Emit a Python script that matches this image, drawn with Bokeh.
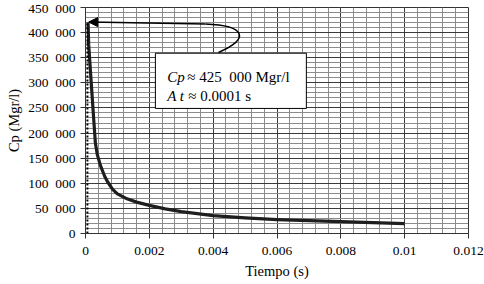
import numpy as np
from bokeh.plotting import figure
from bokeh.models import (Range1d, SingleIntervalTicker, CustomJSTickFormatter,
                          Label, BoxAnnotation, Arrow, NormalHead)
from bokeh.embed import file_html
from bokeh.resources import INLINE

# ---- data ----
tiempo = [0.00008, 0.0001, 0.00015, 0.0002, 0.00026, 0.00031, 0.00037, 0.00047,
          0.0006, 0.00069, 0.00085, 0.001, 0.0013, 0.0016, 0.002, 0.0025, 0.003,
          0.004, 0.005, 0.006, 0.007, 0.008, 0.009, 0.01]
cp = [420000, 376000, 328000, 281000, 225000, 180000, 157000, 135000,
      114000, 103000, 88000, 79000, 69000, 62500, 56000, 49000, 43500,
      35500, 31000, 27800, 25500, 23500, 21500, 19500]

dotted_t = [0.00006, 0.00006]
dotted_cp = [0, 420000]

note_line1 = ("Cp", "\u2248 425\u2007000 Mgr/l")
note_line2 = ("A t", "\u2248 0.0001 s")
x_label = "Tiempo (s)"
y_label = "Cp (Mgr/l)"

SERIF = "Liberation Serif"

p = figure(width=484, height=284, output_backend="svg", toolbar_location=None,
           x_range=Range1d(0, 0.012), y_range=Range1d(0, 450000),
           min_border_left=85, min_border_right=16, min_border_top=7,
           min_border_bottom=51)
p.background_fill_color = "white"
p.border_fill_color = "white"
p.outline_line_color = "#333333"
p.outline_line_width = 1

p.xaxis.ticker = SingleIntervalTicker(interval=0.002, num_minor_ticks=5)
p.yaxis.ticker = SingleIntervalTicker(interval=50000, num_minor_ticks=5)
p.xaxis.formatter = CustomJSTickFormatter(code="""
    return tick.toFixed(3).replace(/0+$/, '').replace(/\\.$/, '');
""")
p.yaxis.formatter = CustomJSTickFormatter(code="""
    return tick.toFixed(0).replace(/\\B(?=(\\d{3})+(?!\\d))/g, '\\u2007');
""")

for ax in (p.xaxis[0], p.yaxis[0]):
    ax.axis_line_color = "#333333"
    ax.major_tick_line_color = "#333333"
    ax.major_tick_out = 5
    ax.major_tick_in = 0
    ax.minor_tick_line_color = None
    ax.major_label_text_font = SERIF
    ax.major_label_text_font_size = "13.5px"
    ax.major_label_text_color = "black"
    ax.axis_label_text_font = SERIF
    ax.axis_label_text_font_style = "normal"
    ax.axis_label_text_font_size = "14.5px"
    ax.axis_label_text_color = "black"
p.xaxis.major_label_standoff = 8
p.yaxis.major_label_standoff = 5
p.xaxis.axis_label = x_label
p.xaxis.axis_label_standoff = 5
p.yaxis.axis_label = y_label
p.yaxis.axis_label_standoff = 3

p.xgrid.grid_line_color = "#3a3a3a"
p.ygrid.grid_line_color = "#3a3a3a"
p.xgrid.minor_grid_line_color = "#8c8c8c"
p.ygrid.minor_grid_line_color = "#8c8c8c"

# curve and dotted marker
p.line(tiempo, cp, line_color="#1e1e1e", line_width=3.2, line_join="round")
p.line(dotted_t, dotted_cp, line_color="black", line_width=2, line_dash="2 2")

# arrow path from the note box to the peak
p.line([0.00012, 0.00376], [420900, 417100], line_color="black", line_width=1.5)
p.bezier(x0=[0.00376], y0=[417100], x1=[0.004167], y1=[360400],
         cx0=[0.005013], cy0=[414200], cx1=[0.00517], cy1=[388300],
         line_color="black", line_width=1.5)
p.add_layout(Arrow(end=NormalHead(size=9, fill_color="black", line_color="black"),
                   x_start=0.0004, y_start=420900, x_end=0.0001, y_end=421000,
                   line_color="black", line_width=1.5))

# note box
p.add_layout(BoxAnnotation(left=0.00219, right=0.00692, top=359000, bottom=249000,
                           fill_color="white", fill_alpha=1.0,
                           line_color="black", line_width=1, line_alpha=1.0))

p.add_layout(Label(x=0.00256, y=311200, text=note_line1[0], text_font=SERIF,
                   text_font_style="italic", text_font_size="15px",
                   text_baseline="alphabetic", text_color="black"))
p.add_layout(Label(x=0.00256, y=311200, x_offset=20, text=note_line1[1], text_font=SERIF,
                   text_font_size="15px", text_baseline="alphabetic", text_color="black"))
p.add_layout(Label(x=0.00256, y=272800, text=note_line2[0], text_font=SERIF,
                   text_font_style="italic", text_font_size="15px",
                   text_baseline="alphabetic", text_color="black"))
p.add_layout(Label(x=0.00256, y=272800, x_offset=21, text=note_line2[1], text_font=SERIF,
                   text_font_size="15px", text_baseline="alphabetic", text_color="black"))

open("out.html", "w").write(file_html(p, INLINE))
